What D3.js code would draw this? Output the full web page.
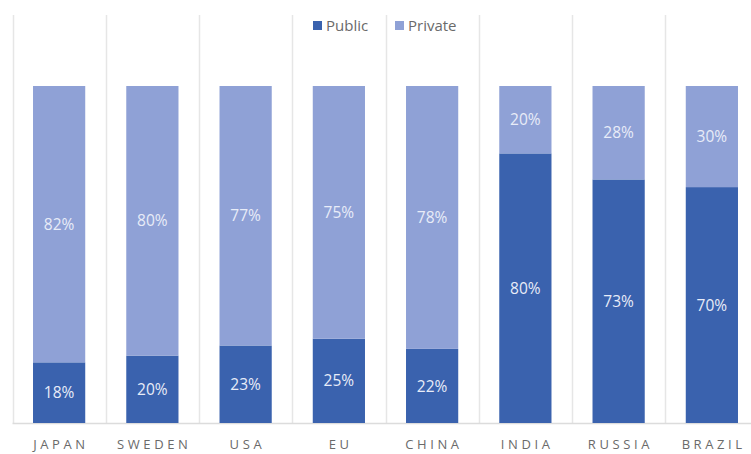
<!DOCTYPE html>
<html><head><meta charset="utf-8">
<script src="https://cdn.jsdelivr.net/npm/d3@7"></script>
<style>body{margin:0;background:#fff}svg{display:block}</style>
</head><body>
<svg id="chart" width="751" height="454"></svg>
<script>
const categories = ["JAPAN","SWEDEN","USA","EU","CHINA","INDIA","RUSSIA","BRAZIL"];
const publicValues = [18,20,23,25,22,80,73,70];
const privateValues = [82,80,77,75,78,20,28,30];
const seriesNames = ["Public","Private"];
const colors = {Public:"#3a62ae", Private:"#8fa1d6"};

(function(){
const svg = d3.select("#chart");
const plotLeft = 12.5, plotRight = 758.5, plotBase = 423, plotTop = 86;

const rows = categories.map((c,i)=>({cat:c, Public:publicValues[i], Private:privateValues[i]}));
const stack = d3.stack().keys(seriesNames).offset(d3.stackOffsetExpand);
const series = stack(rows);

const x = d3.scaleBand().domain(categories).range([plotLeft,plotRight]).paddingInner(0.44).paddingOuter(0.22);
const y = d3.scaleLinear().domain([0,1]).range([plotBase,plotTop]);
const step = x.step();

// vertical gridlines
const g = svg.append("g");
const bounds = categories.map(c => x(c) - step*0.22).concat([x(categories[categories.length-1]) + x.bandwidth() + step*0.22]);
g.selectAll("line.v").data(bounds).join("line")
  .attr("x1", d=>Math.round(d)+0.5).attr("x2", d=>Math.round(d)+0.5)
  .attr("y1", 15).attr("y2", plotBase)
  .attr("stroke","#e6e6e6").attr("stroke-width",1.5);
g.append("line").attr("x1",plotLeft).attr("x2",plotRight).attr("y1",plotBase+0.5).attr("y2",plotBase+0.5)
  .attr("stroke","#dcdcdc").attr("stroke-width",1.5);

// bars
const layers = svg.selectAll("g.layer").data(series).join("g").attr("class","layer").attr("fill", d=>colors[d.key]);
layers.selectAll("rect").data(d=>d).join("rect")
  .attr("x", d=>x(d.data.cat)).attr("width", x.bandwidth())
  .attr("y", d=>y(d[1])).attr("height", d=>y(d[0])-y(d[1]));

// labels
series.forEach(s=>{
  svg.append("g").selectAll("text").data(s).join("text")
    .attr("x", d=>x(d.data.cat)+x.bandwidth()/2)
    .attr("y", d=>(y(d[0])+y(d[1]))/2)
    .attr("dy","0.36em")
    .attr("text-anchor","middle")
    .attr("fill","#e8ecf8")
    .attr("font-family","Open Sans, sans-serif")
    .attr("font-size",15.5)
    .text(d=>d.data[s.key]+"%");
});

// x axis labels
const xAxis = d3.axisBottom(x).tickSize(0).tickPadding(0);
const ax = svg.append("g").attr("transform",`translate(0,${plotBase})`).call(xAxis);
ax.select(".domain").remove();
ax.selectAll("text")
  .attr("y", 26)
  .attr("dy", 0)
  .attr("fill","#6a6a6a")
  .attr("font-family","Open Sans, sans-serif")
  .attr("font-size",13)
  .attr("letter-spacing","3.6px")
  .attr("dx","1.8px");

// legend
const legend = svg.append("g");
const items = [{k:"Public", x:313},{k:"Private", x:395}];
items.forEach(it=>{
  legend.append("rect").attr("x",it.x).attr("y",21).attr("width",9).attr("height",9).attr("fill",colors[it.k]);
  legend.append("text").attr("x",it.x+13).attr("y",31).attr("fill","#6a6a6a")
    .attr("font-family","Open Sans, sans-serif").attr("font-size",15).text(it.k);
});
})();
</script>
</body></html>
